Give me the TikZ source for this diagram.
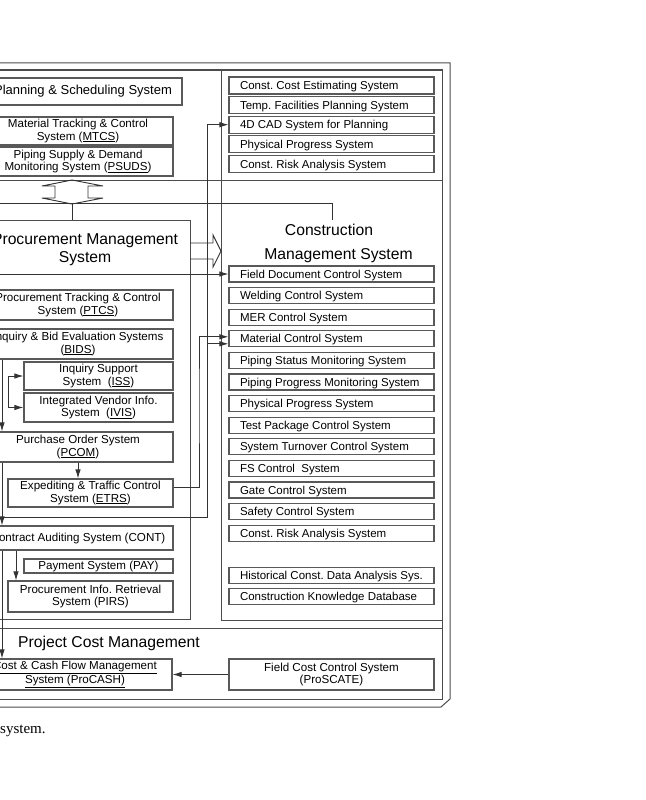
\documentclass[tikz,border=0pt]{standalone}
\usepackage{fontspec}
\setmainfont{Liberation Serif}
\setsansfont{Liberation Sans}
\usetikzlibrary{positioning}
\usetikzlibrary{arrows.meta}

\begin{document}
\frenchspacing
\begin{tikzpicture}[x=1pt,y=-1pt,node distance=4.5pt,>={Latex[length=9pt,width=5.5pt]},
  ln/.style={black!80,line width=0.9pt},
  frm/.style={draw=black!70,line width=1pt},
  sbox/.style={draw=black!65,line width=1.1pt,inner sep=0pt,align=center,
    font=\sffamily\fontsize{11.6}{12.3}\selectfont},
  cbox/.style={draw=black!65,line width=1.1pt,inner xsep=11pt,inner ysep=0pt,minimum height=16pt,
    text height=8.8pt,text depth=0.5pt,font=\sffamily\fontsize{11.5}{12.3}\selectfont,
    execute at begin node={\hbox to 183pt\bgroup},execute at end node={\hss\egroup}},
  hdr/.style={inner sep=0pt,font=\sffamily\fontsize{15.7}{18}\selectfont}]
\useasboundingbox (0,0) rectangle (645,800);
\clip (0,0) rectangle (645,800);

% frames
\draw[frm] (-80,63) -- (450,63) -- (450,699) -- (441,707) -- (-80,707);
\draw[frm] (-80,70) rectangle (442,699);
\draw[frm] (-80,180) -- (442,180);
\draw[frm] (221,70) -- (221,620) -- (442,620);
\draw[frm] (-80,628) -- (442,628);

% planning
\path node[sbox,font=\sffamily\fontsize{13}{14}\selectfont,minimum width=198pt,minimum height=27pt] (pss) at (83,91.5) {Planning \& Scheduling System};
\path node[sbox,minimum width=190pt,minimum height=28pt] (mtcs) at (78,131) {Material Tracking \& Control\\System (\underline{MTCS})};
\path node[sbox,minimum width=190pt,minimum height=29pt] (psuds) at (78,161.5) {Piping Supply \& Demand\\Monitoring System (\underline{PSUDS})};

% procurement
\path node[draw=black!70,line width=1pt,inner sep=0pt,minimum width=236pt,minimum height=399pt] (pms) at (72,419.5) {};
\path node[hdr,align=center] (pmst) at (85,250) {Procurement Management\\System};
\path node[sbox,minimum width=190pt,minimum height=30pt] (ptcs) at (78,305) {Procurement Tracking \& Control\\System (\underline{PTCS})};
\path node[sbox,minimum width=190pt,minimum height=30pt] (bids) at (78,344) {Inquiry \& Bid Evaluation Systems\\(\underline{BIDS})};
\path node[sbox,minimum width=149pt,minimum height=28pt] (iss) at (98.5,376) {Inquiry Support\\System~ (\underline{ISS})};
\path node[sbox,minimum width=149pt,minimum height=29pt] (ivis) at (98.5,407.5) {Integrated Vendor Info.\\System~ (\underline{IVIS})};
\path node[sbox,minimum width=190pt,minimum height=30pt] (pcom) at (78,447) {Purchase Order System\\(\underline{PCOM})};
\path node[sbox,minimum width=165pt,minimum height=28pt] (etrs) at (90.5,493) {Expediting \& Traffic Control\\System (\underline{ETRS})};
\path node[sbox,minimum width=190pt,minimum height=24pt] (cont) at (78,538) {Contract Auditing System (CONT)};
\path node[sbox,minimum width=149pt,minimum height=14pt] (pay) at (98.5,566) {Payment System (PAY)};
\path node[sbox,minimum width=165pt,minimum height=31pt] (pirs) at (90.5,596.5) {Procurement Info. Retrieval\\System (PIRS)};

% construction
\path node[hdr,anchor=base,inner sep=3pt] (cmt) at (329,235) {Construction};
\path node[hdr,anchor=base] (cmt2) at (338.5,259) {Management System};
\path node[cbox,minimum height=17pt] (cces) at (331.5,85.5) {Const. Cost Estimating System};
\path node[cbox,minimum height=17pt,below =1.5pt of cces] (tfps) {Temp. Facilities Planning System};
\path node[cbox,minimum height=17pt,below =1.5pt of tfps] (cad) {4D CAD System for Planning};
\path node[cbox,minimum height=17pt,below =1.5pt of cad] (pps1) {Physical Progress System};
\path node[cbox,minimum height=17pt,below =1.5pt of pps1] (cras1) {Const. Risk Analysis System};
\path node[cbox] (fdcs) at (331.5,274) {Field Document Control System};
\path node[cbox,below =of fdcs] (wcs) {Welding Control System};
\path node[cbox,below =of wcs] (mer) {MER Control System};
\path node[cbox,below =of mer] (mcs) {Material Control System};
\path node[cbox,below =of mcs] (psms) {Piping Status Monitoring System};
\path node[cbox,below =of psms] (ppms) {Piping Progress Monitoring System};
\path node[cbox,below =of ppms] (pps2) {Physical Progress System};
\path node[cbox,below =of pps2] (tpcs) {Test Package Control System};
\path node[cbox,below =of tpcs] (stcs) {System Turnover Control System};
\path node[cbox,below =of stcs] (fscs) {FS Control~ System};
\path node[cbox,below =of fscs] (gcs) {Gate Control System};
\path node[cbox,below =of gcs] (scs) {Safety Control System};
\path node[cbox,below =of scs] (cras2) {Const. Risk Analysis System};
\path node[cbox,below =24.9pt of cras2] (hcda) {Historical Const. Data Analysis Sys.};
\path node[cbox,below =of hcda] (ckdb) {Construction Knowledge Database};

% project cost
\path node[hdr,anchor=base] (pcmt) at (109,647) {Project Cost Management};
\path node[sbox,minimum width=194pt,minimum height=31pt] (procash) at (75,674.5) {\underline{Cost \& Cash Flow Management}\\\underline{System (ProCASH)}};
\path node[sbox,minimum width=205pt,minimum height=31pt] (proscate) at (331.5,674.5) {Field Cost Control System\\(ProSCATE)};

\path node[anchor=base west,inner sep=0pt,font=\fontsize{15}{18}\selectfont] (cap) at (0,733) {system.};

% hollow arrows
\path[ln,draw] (72,180) -- (103,186) -- (88,186) -- (88,198) -- (103,198) -- (72,204) -- (42,198) -- (55,198) -- (55,186) -- (42,186) -- cycle;
\path[ln,draw] (190,243) -- (213,243) -- (213,235) -- (221,251) -- (213,267) -- (213,259) -- (190,259);

% connectors
\coordinate (da) at (72,204);
\coordinate (bl) at (-80,203.5);
\coordinate (fl) at (-80,274);
\coordinate (xl) at (2,0);
\coordinate (j1) at (2,517);
\coordinate (x1) at (207,517);
\coordinate (x2) at (199,400);
\coordinate (x3) at (16,0);
\path[ln] (da) edge (pms.north);
\path[ln,draw] (bl) -| ([xshift=3pt]cmt.north);
\path[ln,->] (fl) edge (fdcs.west);
\path[ln,->] (bids.south -| xl) edge (pcom.north -| xl);
\path[ln,->] (pcom.south -| xl) edge (cont.north -| xl);
\path[ln,->] (cont.south -| xl) edge (procash.north -| xl);
\path[ln,->,draw] (j1) -- (x1) |- (cad.west);
\path[ln,->,draw] (x1) |- ([yshift=-5pt]mcs.west);
\path[ln,->,draw] ([yshift=6pt]etrs.east) -| (x2) |- ([yshift=2pt]mcs.west);
\path[ln,->] (pcom.south) edge (pcom.south |- etrs.north);
\path[ln,->] (cont.south -| x3) edge (pirs.north -| x3);
\path[ln,<->,draw] (iss.west) -- ++(-15,0) |- (ivis.west);
\path[ln,->] (proscate.west) edge (procash.east);
\end{tikzpicture}
\end{document}
